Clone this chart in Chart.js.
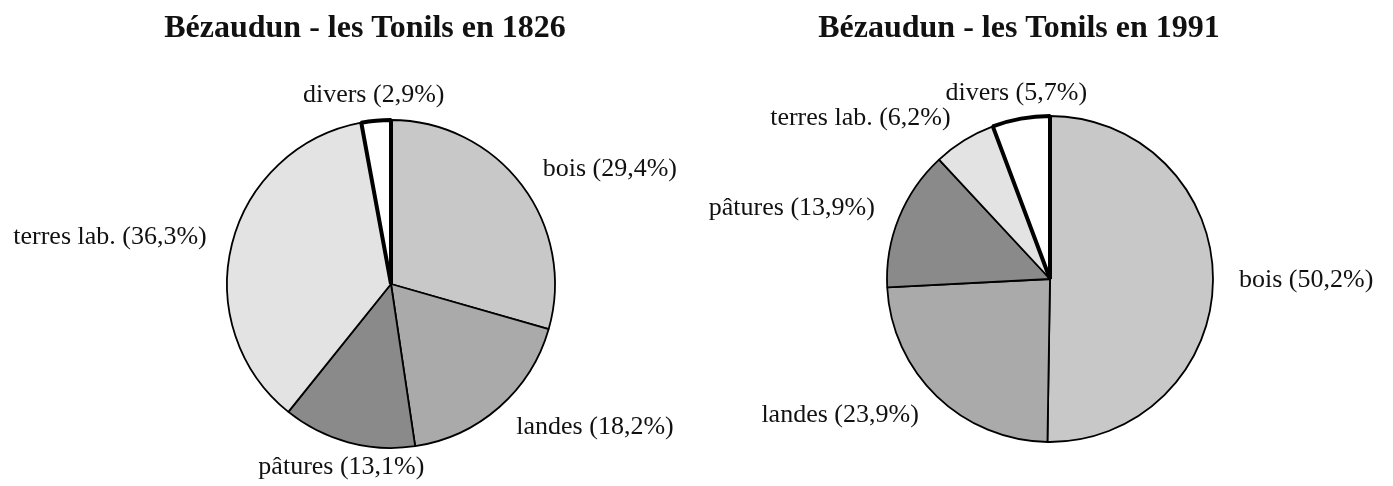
<!DOCTYPE html>
<html>
<head>
<meta charset="utf-8">
<script src="https://cdn.jsdelivr.net/npm/chart.js@4.4.1/dist/chart.umd.min.js"></script>
<style>
  html, body { margin: 0; padding: 0; background: #fff; }
  #wrap { position: relative; width: 1393px; height: 486px; }
  .box { position: absolute; top: 0; height: 486px; }
</style>
</head>
<body>
<div id="wrap">
  <div class="box" style="left:0;width:700px"><canvas id="pie1826"></canvas></div>
  <div class="box" style="left:700px;width:693px"><canvas id="pie1991"></canvas></div>
</div>
<script>
const categories1826 = ["bois", "landes", "pâtures", "terres lab.", "divers"];
const values1826 = [29.4, 18.2, 13.1, 36.3, 2.9];
const categories1991 = ["bois", "landes", "pâtures", "terres lab.", "divers"];
const values1991 = [50.2, 23.9, 13.9, 6.2, 5.7];
const sliceColors = ["#c8c8c8", "#aaaaaa", "#8a8a8a", "#e3e3e3", "#ffffff"];
const sliceBorders = [1.8, 1.8, 1.8, 1.8, 4];

// titles + outside labels drawn after the pie
const labelsPlugin = {
  id: "outsideLabels",
  afterDatasetsDraw(chart, args, opts) {
    const ctx = chart.ctx;
    ctx.save();
    ctx.fillStyle = "#111";
    ctx.font = "bold 32px 'Liberation Serif', 'Times New Roman', serif";
    ctx.textAlign = "center";
    ctx.textBaseline = "alphabetic";
    ctx.fillText(opts.title, opts.titleX, 37);

    ctx.font = "26px 'Liberation Serif', 'Times New Roman', serif";
    ctx.textBaseline = "middle";
    const meta = chart.getDatasetMeta(0);
    const data = chart.data.datasets[0].data;
    meta.data.forEach((arc, i) => {
      const mid = (arc.startAngle + arc.endAngle) / 2;
      const ux = Math.cos(mid), uy = Math.sin(mid);
      const d = arc.outerRadius + 26;
      const x = arc.x + ux * d;
      const y = arc.y + uy * d;
      ctx.textAlign = ux > 0.35 ? "left" : (ux < -0.35 ? "right" : "center");
      const txt = chart.data.labels[i] + " (" + data[i].toFixed(1).replace(".", ",") + "%)";
      ctx.fillText(txt, x, y);
    });
    ctx.restore();
  }
};

function makePie(id, labels, values, title, titleX, radius, padding) {
  return new Chart(document.getElementById(id).getContext("2d"), {
    type: "pie",
    data: {
      labels: labels,
      datasets: [{
        data: values,
        backgroundColor: sliceColors,
        borderColor: "#000",
        borderWidth: sliceBorders,
        radius: radius
      }]
    },
    options: {
      responsive: true,
      maintainAspectRatio: false,
      animation: false,
      layout: { padding: padding },
      plugins: {
        legend: { display: false },
        tooltip: { enabled: false },
        title: { display: false },
        outsideLabels: { title: title, titleX: titleX }
      }
    },
    plugins: [labelsPlugin]
  });
}

const chart1826 = makePie("pie1826", categories1826, values1826,
  "Bézaudun - les Tonils en 1826", 365, 164,
  { left: 225, right: 143, top: 120, bottom: 38 });
const chart1991 = makePie("pie1991", categories1991, values1991,
  "Bézaudun - les Tonils en 1991", 319, 163,
  { left: 184, right: 177, top: 113, bottom: 41 });
</script>
</body>
</html>
